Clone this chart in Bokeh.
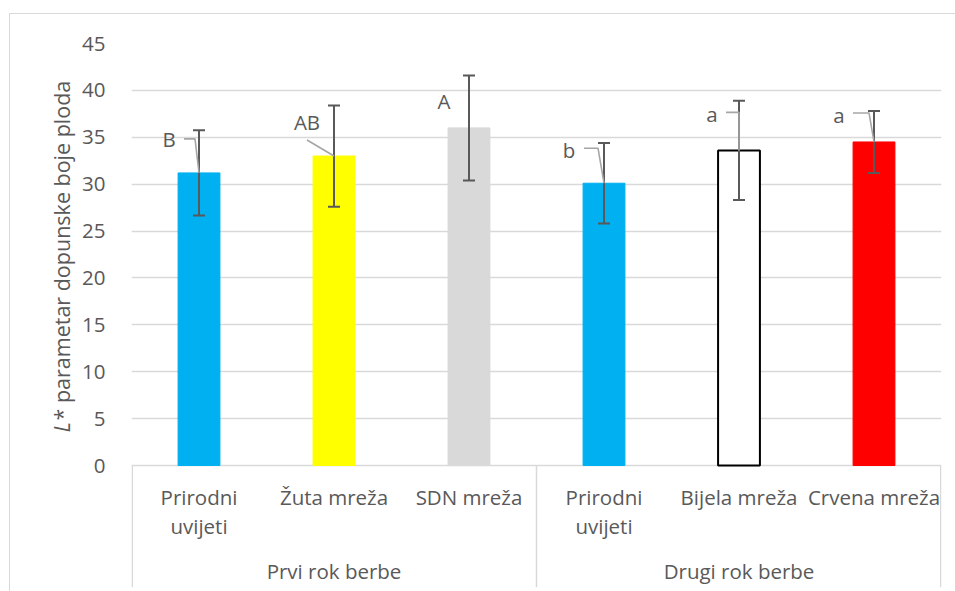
import numpy as np
from bokeh.plotting import figure
from bokeh.models import Range1d, FixedTicker, ColumnDataSource, Label, InlineStyleSheet
from bokeh.embed import file_html
from bokeh.resources import INLINE
from bokeh.core.properties import value

# ---------------- data ----------------
groups = ["Prvi rok berbe", "Drugi rok berbe"]
treatments = ["Prirodni\nuvijeti", "Žuta mreža", "SDN mreža",
              "Prirodni\nuvijeti", "Bijela mreža", "Crvena mreža"]
group_index = [0, 0, 0, 1, 1, 1]
means = [31.2, 33.0, 36.0, 30.1, 33.6, 34.5]
errors = [4.55, 5.4, 5.6, 4.3, 5.3, 3.3]
letters = ["B", "AB", "A", "b", "a", "a"]
y_ticks = [0, 5, 10, 15, 20, 25, 30, 35, 40, 45]
y_title_italic = "L"
y_title_rest = "* parametar dopunske boje ploda"

# ---------------- styles / layout ----------------
fill_colors = ["#00B0F0", "#FFFF00", "#D9D9D9", "#00B0F0", "#FFFFFF", "#FF0000"]
edge_colors = ["#00B0F0", "#FFFF00", "#D9D9D9", "#00B0F0", "#000000", "#FF0000"]
edge_widths = [1, 1, 1, 1, 2, 1]
# letter placement relative to bar top, in screen pixels
label_dx = [-30, -27, -25, -35, -27, -35]
label_dy = [-34, -34, -27, -33, -36, -27]
# leader line polylines relative to bar top, in screen pixels
leader_px = [
    [(-15, -34), (-4, -34), (0, 0)],
    [(-27, -16), (0, 0)],
    None,
    [(-20, -35), (-6, -35), (0, 0)],
    [(-13, -38), (0, -38), (0, 0)],
    [(-21, -29), (-5, -29), (0, 0)],
]

FONT = "Open Sans"
TXT = "#595959"
GRID = "#D9D9D9"
FS = "20.5px"

W, H = 955, 591
F_LEFT, F_RIGHT, F_TOP, F_ZERO, F_BOTTOM = 131, 941, 43, 465, 587
n = len(means)
PX_X = (F_RIGHT - F_LEFT) / n
PX_Y = (F_ZERO - F_TOP) / max(y_ticks)
y_start = -(F_BOTTOM - F_ZERO) / PX_Y


def sx(px):
    return px / PX_X


def sy(px):
    return -px / PX_Y


xc = [i + 0.5 for i in range(n)]

border_css = InlineStyleSheet(css=(
    ":host::after{content:'';position:absolute;left:9px;top:13px;width:1000px;height:700px;"
    "border:1.3px solid #D9D9D9;pointer-events:none;}"))

p = figure(width=W, height=H, x_range=Range1d(0, n), y_range=Range1d(y_start, max(y_ticks)),
           output_backend="svg", toolbar_location=None, x_axis_location=None,
           min_border_left=F_LEFT, min_border_right=W - F_RIGHT,
           min_border_top=F_TOP, min_border_bottom=H - F_BOTTOM,
           outline_line_color=None, background_fill_color="white", border_fill_color="white",
           stylesheets=[border_css])

p.xgrid.visible = False
p.ygrid.ticker = FixedTicker(ticks=y_ticks)
p.ygrid.grid_line_color = GRID
p.ygrid.grid_line_width = 1.3

ax = p.yaxis[0]
ax.ticker = FixedTicker(ticks=y_ticks)
ax.axis_line_color = None
ax.major_tick_line_color = None
ax.minor_tick_line_color = None
ax.major_label_standoff = 20
ax.major_label_text_font = FONT
ax.major_label_text_font_size = FS
ax.major_label_text_color = TXT

src = ColumnDataSource(dict(
    x=xc, top=means, lower=[m - e for m, e in zip(means, errors)],
    upper=[m + e for m, e in zip(means, errors)],
    fill=fill_colors, edge=edge_colors, lw=edge_widths,
    letter=letters, dx=label_dx, dy=label_dy,
))

p.vbar(x="x", top="top", bottom=0, width=0.31, fill_color="fill", line_color="edge",
       line_width="lw", source=src)

# error bars
cap = sx(6)
p.segment(x0="x", y0="lower", x1="x", y1="upper", line_color="#595959", line_width=2, source=src)
p.segment(x0=[x - cap for x in xc], y0=src.data["upper"], x1=[x + cap for x in xc],
          y1=src.data["upper"], line_color="#595959", line_width=2)
p.segment(x0=[x - cap for x in xc], y0=src.data["lower"], x1=[x + cap for x in xc],
          y1=src.data["lower"], line_color="#595959", line_width=2)

# leader lines
lx, ly = [], []
for i, pts in enumerate(leader_px):
    if pts is None:
        continue
    lx.append([xc[i] + sx(a) for a, b in pts])
    ly.append([means[i] + sy(b) for a, b in pts])
p.multi_line(xs=lx, ys=ly, line_color="#A6A6A6", line_width=1.6)

# significance letters
p.text(x="x", y="top", text="letter", x_offset="dx", y_offset="dy", source=src,
       text_align="center", text_baseline="middle", text_font=value(FONT),
       text_font_size=FS, text_color=TXT)

# category axis area
p.text(x=xc, y=[sy(482 - F_ZERO)] * n, text=treatments, text_align="center",
       text_baseline="top", text_line_height=1.06, text_font=value(FONT),
       text_font_size=FS, text_color=TXT)
p.text(x=[g * 3 + 1.5 for g in range(len(groups))], y=[sy(570 - F_ZERO)] * len(groups),
       text=groups, text_align="center", text_baseline="middle", text_font=value(FONT),
       text_font_size=FS, text_color=TXT)
sep_x = [sx(0.75), 3, n - sx(0.75)]
p.segment(x0=sep_x, y0=[0] * 3, x1=sep_x, y1=[y_start] * 3, line_color=GRID, line_width=1.5)

# y-axis title (placed in the left panel, positioned through the plot's scales)
TITLE_FS = "21.5px"
title_x = sx(61 - F_LEFT)
title_y0 = sy(432 - F_ZERO)
p.add_layout(Label(x=title_x, y=title_y0, text=y_title_italic, angle=np.pi / 2,
                   text_align="left", text_baseline="middle", text_font=FONT,
                   text_font_size=TITLE_FS, text_font_style="italic", text_color=TXT), "left")
p.add_layout(Label(x=title_x, y=title_y0 + sy(-12), text=y_title_rest, angle=np.pi / 2,
                   text_align="left", text_baseline="middle", text_font=FONT,
                   text_font_size=TITLE_FS, text_color=TXT), "left")

open("out.html", "w").write(file_html(p, INLINE))
